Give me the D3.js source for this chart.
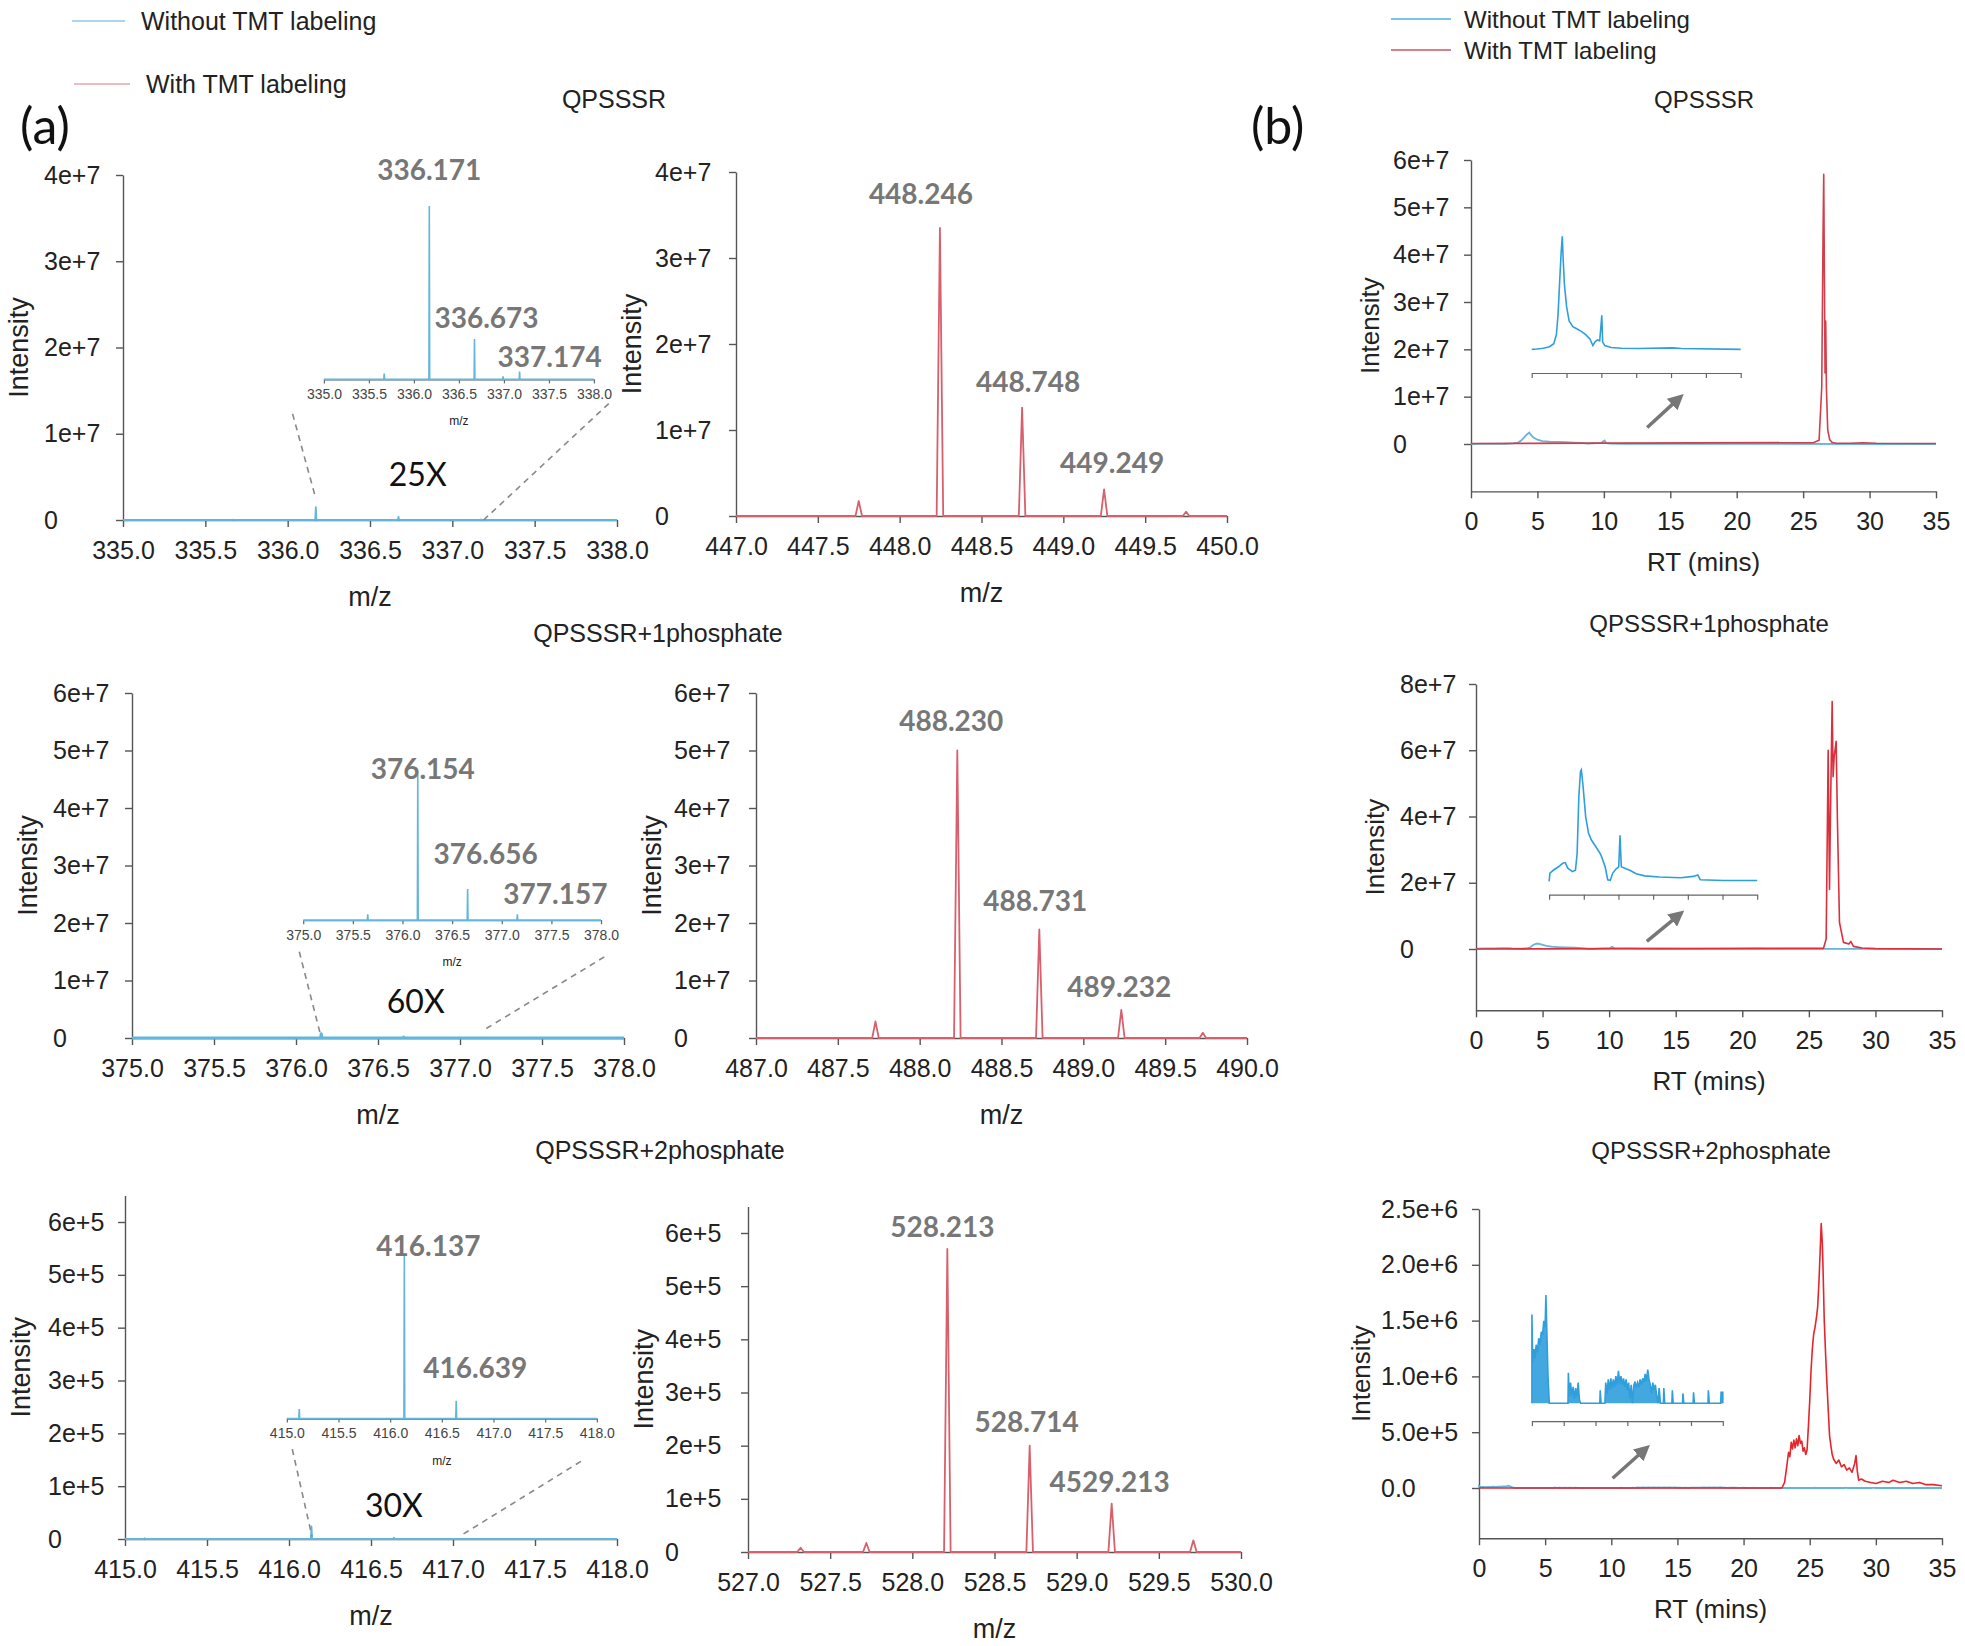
<!DOCTYPE html>
<html lang="en">
<head>
<meta charset="utf-8">
<style>
  body { margin: 0; background: #fff; }
  svg { display: block; }
  .axis path, .axis line { stroke: #555; stroke-width: 1.4; }
  .axis text { font-family: "Liberation Sans", Arial, sans-serif; font-size: 25px; fill: #222; }
  .inset-axis path, .inset-axis line { stroke: #666; stroke-width: 1.2; }
  .inset-axis text { font-family: "Liberation Sans", Arial, sans-serif; font-size: 14px; fill: #444; }
  .lab { font-family: "Liberation Sans", Arial, sans-serif; fill: #222; }
  .peak-label { font-family: Lato, "Open Sans", sans-serif; font-weight: 700; font-size: 28px; fill: #777; }
  .mag { font-family: Lato, "Open Sans", sans-serif; fill: #111; }
</style>
</head>
<body>
<svg width="1965" height="1646"></svg>
<script src="https://d3js.org/d3.v7.min.js"></script>
<script>
// ---------------- data ----------------
// (a) MS1 spectra, peak centroids (m/z, intensity)
const a1Mz  = [335.67, 336.171, 336.673, 336.99, 337.174];
const a1Int = [5.1e4, 1.5e6, 3.5e5, 2.7e4, 6.8e4];
const a1Lab = ["", "336.171", "336.673", "", "337.174"];

const a2Mz  = [447.75, 448.246, 448.748, 449.249, 449.75];
const a2Int = [1.74e6, 3.35e7, 1.26e7, 3.1e6, 5e5];
const a2Lab = ["", "448.246", "448.748", "449.249", ""];

const a3Mz  = [375.65, 376.154, 376.656, 377.157];
const a3Int = [3.0e4, 7.5e5, 1.6e5, 3.0e4];
const a3Lab = ["", "376.154", "376.656", "377.157"];

const a4Mz  = [487.73, 488.23, 488.731, 489.232, 489.73];
const a4Int = [2.9e6, 5.0e7, 1.89e7, 4.9e6, 9e5];
const a4Lab = ["", "488.230", "488.731", "489.232", ""];

const a5Mz  = [415.12, 416.137, 416.639];
const a5Int = [1.4e3, 2.4e4, 2.6e3];
const a5Lab = ["", "416.137", "416.639"];

const a6Mz  = [527.32, 527.72, 528.213, 528.714, 529.213, 529.71];
const a6Int = [8e3, 1.7e4, 5.7e5, 2.0e5, 9.1e4, 2.2e4];
const a6Lab = ["", "", "528.213", "528.714", "4529.213", ""];

// tick values / labels
const a1XTicks = [335.0, 335.5, 336.0, 336.5, 337.0, 337.5, 338.0];
const a2XTicks = [447.0, 447.5, 448.0, 448.5, 449.0, 449.5, 450.0];
const a3XTicks = [375.0, 375.5, 376.0, 376.5, 377.0, 377.5, 378.0];
const a4XTicks = [487.0, 487.5, 488.0, 488.5, 489.0, 489.5, 490.0];
const a5XTicks = [415.0, 415.5, 416.0, 416.5, 417.0, 417.5, 418.0];
const a6XTicks = [527.0, 527.5, 528.0, 528.5, 529.0, 529.5, 530.0];
const yTicks4e7 = [0, 1e7, 2e7, 3e7, 4e7];
const yLabels4e7 = ["0", "1e+7", "2e+7", "3e+7", "4e+7"];
const yTicks6e7 = [0, 1e7, 2e7, 3e7, 4e7, 5e7, 6e7];
const yLabels6e7 = ["0", "1e+7", "2e+7", "3e+7", "4e+7", "5e+7", "6e+7"];
const yTicks6e5 = [0, 1e5, 2e5, 3e5, 4e5, 5e5, 6e5];
const yLabels6e5 = ["0", "1e+5", "2e+5", "3e+5", "4e+5", "5e+5", "6e+5"];

// (b) extracted ion chromatograms (RT in min, intensity)
const rtTicks = [0, 5, 10, 15, 20, 25, 30, 35];
const insetRtTicks = [0, 5, 10, 15, 20, 25, 30];

const b1BlueRt  = [0, 0.73, 1.65, 2.56, 3.17, 3.54, 3.78, 4.02, 4.21, 4.39, 4.51, 4.7, 5.0, 5.37, 5.91, 6.52, 7.13, 7.74, 8.35, 8.78, 9.09, 9.45, 9.76, 9.94, 10.06, 10.18, 10.49, 11.4, 12.9, 15.4, 20.2, 21.5, 30, 35];
const b1BlueInt = [0, 7e3, 2.4e4, 5.5e4, 1.2e5, 3.1e5, 7.4e5, 1.46e6, 2.02e6, 2.4e6, 1.92e6, 1.37e6, 9.1e5, 6.0e5, 4.8e5, 4.3e5, 3.8e5, 3.1e5, 2.2e5, 8e4, 1.6e5, 2.0e5, 1.8e5, 5.0e5, 7.2e5, 1.6e5, 8e4, 3.8e4, 2.4e4, 1.7e4, 3.1e4, 1.7e4, 0, 0];
const b1RedRt  = [0, 25.8, 26.2, 26.4, 26.5, 26.55, 26.6, 26.65, 26.7, 26.75, 26.85, 27.0, 27.2, 27.5, 28.5, 29.5, 30.5, 35];
const b1RedInt = [1e5, 3e5, 8e5, 1.2e7, 4.5e7, 5.7e7, 3.5e7, 1.5e7, 2.6e7, 1.2e7, 3e6, 9e5, 3e5, 1.5e5, 1.5e5, 2.5e5, 1.5e5, 1e5];
const b1YTicks = [0, 1e7, 2e7, 3e7, 4e7, 5e7, 6e7];
const b1YLabels = ["0", "1e+7", "2e+7", "3e+7", "4e+7", "5e+7", "6e+7"];

const b2BlueRt  = [0, 0.12, 0.61, 1.35, 1.96, 2.33, 2.69, 3.37, 3.8, 4.04, 4.29, 4.53, 4.65, 4.9, 5.27, 5.69, 6.12, 6.73, 7.47, 8.08, 8.45, 8.82, 9.18, 9.67, 10.04, 10.22, 10.41, 10.9, 11.63, 12.55, 13.78, 15.9, 18.98, 20.8, 21.43, 21.8, 25.1, 30, 35];
const b2BlueInt = [0, 1.2e5, 1.6e5, 2.1e5, 2.6e5, 2.7e5, 1.9e5, 1.4e5, 1.6e5, 4.0e5, 1.22e6, 1.58e6, 1.6e6, 1.36e6, 9.3e5, 6.9e5, 5.9e5, 5.0e5, 3.8e5, 2.1e5, 2.4e4, 1.6e4, 1.2e5, 1.8e5, 2.1e5, 6.6e5, 2.1e5, 1.9e5, 1.6e5, 1.1e5, 8e4, 6.4e4, 5.3e4, 7.2e4, 9.1e4, 2.4e4, 1.4e4, 1.4e4, 0];
const b2RedRt  = [0, 26.1, 26.3, 26.45, 26.55, 26.62, 26.75, 26.82, 26.9, 27.05, 27.15, 27.3, 27.6, 28.0, 28.15, 28.35, 29.0, 30, 35];
const b2RedInt = [0, 2e5, 3e6, 6.0e7, 1.8e7, 4e7, 7.47e7, 5.2e7, 5.8e7, 6.27e7, 3.8e7, 8e6, 2e6, 1.5e6, 2.3e6, 8e5, 3e5, 1e5, 0];
const b2YTicks = [0, 2e7, 4e7, 6e7, 8e7];
const b2YLabels = ["0", "2e+7", "4e+7", "6e+7", "8e+7"];

const b3BlueRt  = [0, 0, 0.13, 0.33, 0.47, 0.67, 0.87, 1.07, 1.27, 1.47, 1.67, 1.87, 2.07, 2.2, 2.33, 2.53, 2.73,
  5.67, 5.73, 5.87, 6.07, 6.27, 6.47, 6.67, 6.87, 7.07, 7.27, 7.47, 7.67,
  10.67, 10.73, 10.87, 11.47, 11.6, 11.8, 12.0, 12.2, 12.4, 12.6, 12.8, 13.0, 13.2, 13.4, 13.6, 13.8, 14.0, 14.2, 14.4, 14.6, 14.8, 15.0, 15.2, 15.4, 15.6, 15.8,
  16.0, 16.2, 16.4, 16.6, 16.8, 17.0, 17.2, 17.4, 17.6, 17.8, 18.0, 18.2, 18.4, 18.6, 18.8, 19.0, 19.2, 19.4, 19.6, 19.8, 20.0, 20.2,
  20.67, 20.73, 20.87, 22.0, 22.07, 22.2, 23.67, 23.73, 23.87, 25.33, 25.4, 25.53, 27.67, 27.73, 27.87, 29.67, 29.73, 30, 30, 35];
const b3BlueInt = [0, 16400, 7600, 10000, 8200, 10800, 9400, 12000, 10800, 13200, 12600, 15200, 14000, 20000, 14000, 5000, 0,
  0, 5600, 1200, 3800, 1400, 3000, 800, 2800, 1200, 3800, 600, 0,
  0, 2400, 0, 0, 3800, 1800, 4400, 2400, 4600, 2800, 4400, 3000, 5000, 3400, 6000, 3600, 5000, 3400, 4600, 3000, 4400, 2400, 3800, 800, 3400, 0,
  3200, 4000, 2800, 3800, 3000, 4400, 3400, 4600, 3800, 5400, 4000, 6200, 4400, 3400, 1800, 3800, 2400, 3400, 1400, 0, 2800, 0,
  0, 2800, 0, 0, 2400, 0, 0, 1800, 0, 0, 2000, 0, 0, 2400, 0, 0, 2000, 2000, 0, 0];
const b3RedRt  = [0, 22.9, 23.1, 23.25, 23.4, 23.5, 23.6, 23.7, 23.8, 23.9, 24.0, 24.1, 24.2, 24.3, 24.4, 24.5, 24.6, 24.7, 24.8, 24.9, 25.0, 25.1, 25.2, 25.3, 25.4, 25.5, 25.6, 25.7, 25.8, 25.87, 25.95, 26.0, 26.1, 26.2, 26.3, 26.4, 26.5, 26.6, 26.7, 26.8, 27.0, 27.2, 27.4, 27.6, 27.8, 28.0, 28.2, 28.4, 28.5, 28.6, 28.7, 28.9, 29.2, 29.6, 30.0, 30.5, 31.0, 31.3, 31.8, 32.3, 32.8, 33.3, 33.8, 34.3, 35];
const b3RedInt = [0, 0, 0.05e6, 0.18e6, 0.32e6, 0.28e6, 0.41e6, 0.35e6, 0.43e6, 0.36e6, 0.44e6, 0.38e6, 0.47e6, 0.40e6, 0.42e6, 0.33e6, 0.36e6, 0.30e6, 0.34e6, 0.55e6, 0.78e6, 1.05e6, 1.25e6, 1.38e6, 1.44e6, 1.52e6, 1.62e6, 1.85e6, 2.15e6, 2.37e6, 2.2e6, 2.0e6, 1.5e6, 1.2e6, 0.94e6, 0.70e6, 0.47e6, 0.38e6, 0.30e6, 0.26e6, 0.22e6, 0.25e6, 0.19e6, 0.21e6, 0.16e6, 0.18e6, 0.14e6, 0.22e6, 0.29e6, 0.15e6, 0.07e6, 0.08e6, 0.06e6, 0.05e6, 0.04e6, 0.06e6, 0.05e6, 0.07e6, 0.05e6, 0.06e6, 0.04e6, 0.05e6, 0.03e6, 0.03e6, 0.02e6];
const b3YTicks = [0, 0.5e6, 1.0e6, 1.5e6, 2.0e6, 2.5e6];
const b3YLabels = ["0.0", "5.0e+5", "1.0e+6", "1.5e+6", "2.0e+6", "2.5e+6"];

// ---------------- drawing ----------------
const svg = d3.select("svg");
const BLUE = "#62b5dd", RED = "#d8606c", INSET_BLUE = "#2f9fdc";

svg.append("defs").append("marker")
  .attr("id", "arrow").attr("viewBox", "0 0 10 10")
  .attr("refX", 3).attr("refY", 5)
  .attr("markerWidth", 4.5).attr("markerHeight", 4.5)
  .attr("orient", "auto")
  .append("path").attr("d", "M0,0 L10,5 L0,10 z").attr("fill", "#777");

function text(x, y, s, size, opts) {
  opts = opts || {};
  const t = svg.append("text").attr("class", opts.cls || "lab")
    .attr("x", x).attr("y", y)
    .attr("text-anchor", opts.anchor || "middle")
    .style("font-size", size + "px")
    .text(s);
  if (opts.rotate) t.attr("dominant-baseline", "central").attr("transform", `rotate(-90,${x},${y})`);
  return t;
}

// centroid peaks drawn as narrow spikes on a baseline
function peakLine(mz, inten, x0, x1, hw) {
  const pts = [[x0, 0]];
  mz.forEach((m, i) => pts.push([m - hw, 0], [m, inten[i]], [m + hw, 0]));
  pts.push([x1, 0]);
  return pts;
}

function spectrumPanel(o) {
  const g = svg.append("g");
  const xd = [o.xTicks[0], o.xTicks[o.xTicks.length - 1]];
  const x = d3.scaleLinear().domain(xd).range([o.left, o.right]);
  const y = d3.scaleLinear().domain([0, o.yTicks[o.yTicks.length - 1]]).range([o.bottom, o.top]);
  const yAx = d3.scaleLinear().domain([0, o.axisMax]).range([o.bottom, y(o.axisMax)]);

  g.append("g").attr("class", "axis").attr("transform", `translate(0,${o.bottom})`)
    .call(d3.axisBottom(x).tickValues(o.xTicks).tickFormat(d3.format(".1f"))
      .tickSize(7).tickSizeOuter(0).tickPadding(14));
  const ya = g.append("g").attr("class", "axis").attr("transform", `translate(${o.left},0)`)
    .call(d3.axisLeft(yAx).tickValues(o.yTicks).tickFormat((d, i) => o.yLabels[i])
      .tickSize(7).tickSizeOuter(0));
  ya.selectAll("text").attr("text-anchor", "start").attr("x", -o.labelOff);

  const line = d3.line().x(d => x(d[0])).y(d => y(d[1]));
  g.append("path").attr("d", line(peakLine(o.mz, o.int, xd[0], xd[1], o.hw)))
    .attr("fill", "none").attr("stroke", o.color).attr("stroke-width", o.baseW || 1.8)
    .attr("stroke-linejoin", "round");

  let lx = x, ly = y;
  if (o.inset) {
    const ins = o.inset;
    const ix = d3.scaleLinear().domain(xd).range([x(ins.x0), x(ins.x1)]);
    const iy = d3.scaleLinear().domain([0, d3.max(o.int)]).range([y(ins.yBase), y(ins.yTop)]);
    g.append("g").attr("class", "inset-axis").attr("transform", `translate(0,${y(ins.yBase)})`)
      .call(d3.axisBottom(ix).tickValues(o.xTicks).tickFormat(d3.format(".1f"))
        .tickSize(4).tickSizeOuter(0).tickPadding(6));
    g.append("text").attr("class", "lab").style("font-size", "12px").attr("fill", "#444")
      .attr("x", (ix.range()[0] + ix.range()[1]) / 2).attr("y", y(ins.yBase) + 46)
      .attr("text-anchor", "middle").text("m/z");
    const il = d3.line().x(d => ix(d[0])).y(d => iy(d[1]));
    g.append("path").attr("d", il(peakLine(o.mz, o.int, xd[0], xd[1], o.hw)))
      .attr("fill", "none").attr("stroke", o.color).attr("stroke-width", 1.6);
    lx = ix; ly = iy;

    // dashed guide lines from the zoomed region
    o.dashes.forEach(d => {
      g.append("line").attr("x1", x(d[0])).attr("y1", y(d[1])).attr("x2", x(d[2])).attr("y2", y(d[3]))
        .attr("stroke", "#888").attr("stroke-width", 1.6).attr("stroke-dasharray", "6,5");
    });
    g.append("text").attr("class", "mag").style("font-size", "32px")
      .attr("x", x(o.mag[1])).attr("y", y(o.mag[2]))
      .attr("text-anchor", "middle").attr("dominant-baseline", "central").text(o.mag[0]);
  }

  o.labels.forEach((s, i) => {
    if (!s) return;
    g.append("text").attr("class", "peak-label")
      .attr("x", lx(o.mz[i]) + o.ldx[i]).attr("y", ly(o.int[i]) + o.ldy[i])
      .attr("text-anchor", "middle").text(s);
  });

  text((o.left + o.right) / 2, o.bottom + 86, "m/z", 27);
  text(o.left - 104, (o.bottom + y(o.axisMax)) / 2, "Intensity", 27, { rotate: true });
}

function chromPanel(o) {
  const g = svg.append("g");
  const x = d3.scaleLinear().domain([0, 35]).range([o.left, o.right]);
  const top = o.yTicks[o.yTicks.length - 1];
  const y = d3.scaleLinear().domain([0, top]).range([o.zero, o.top]);
  const bottom = y(o.yMin);
  const yAx = d3.scaleLinear().domain([o.yMin, top]).range([bottom, o.top]);

  g.append("g").attr("class", "axis").attr("transform", `translate(0,${bottom})`)
    .call(d3.axisBottom(x).tickValues(rtTicks).tickSize(7).tickSizeOuter(0).tickPadding(14));
  const ya = g.append("g").attr("class", "axis").attr("transform", `translate(${o.left},0)`)
    .call(d3.axisLeft(yAx).tickValues(o.yTicks).tickFormat((d, i) => o.yLabels[i])
      .tickSize(7).tickSizeOuter(0));
  ya.selectAll("text").attr("text-anchor", "start").attr("x", -o.labelOff);

  const line = d3.line().x(d => x(d[0])).y(d => y(d[1]));
  g.append("path").attr("d", line(d3.zip(o.blueRt, o.blueInt)))
    .attr("fill", "none").attr("stroke", BLUE).attr("stroke-width", 1.8);
  g.append("path").attr("d", line(d3.zip(o.redRt, o.redInt)))
    .attr("fill", "none").attr("stroke", o.redColor).attr("stroke-width", 1.6)
    .attr("stroke-linejoin", "round");

  // magnified view of the unlabeled trace
  const ins = o.inset;
  const ix = d3.scaleLinear().domain([0, 30]).range([x(ins.x0), x(ins.x1)]);
  const iy = d3.scaleLinear().domain([0, d3.max(o.blueInt)]).range([y(ins.yBase), y(ins.yTop)]);
  const pts = d3.zip(o.blueRt, o.blueInt).filter(d => d[0] <= 30);
  if (ins.fill) {
    g.append("path").attr("d", d3.area().x(d => ix(d[0])).y0(iy(0)).y1(d => iy(d[1]))(pts))
      .attr("fill", INSET_BLUE).attr("opacity", 0.9);
  }
  g.append("path").attr("d", d3.line().x(d => ix(d[0])).y(d => iy(d[1]))(pts))
    .attr("fill", "none").attr("stroke", INSET_BLUE).attr("stroke-width", 1.6);
  g.append("g").attr("class", "inset-axis").attr("transform", `translate(0,${y(ins.axisY)})`)
    .call(d3.axisBottom(ix).tickValues(insetRtTicks).tickSize(5).tickSizeOuter(0).tickFormat(""));

  g.append("line")
    .attr("x1", x(o.arrow[0])).attr("y1", y(o.arrow[1]))
    .attr("x2", x(o.arrow[2])).attr("y2", y(o.arrow[3]))
    .attr("stroke", "#777").attr("stroke-width", 3.5).attr("marker-end", "url(#arrow)");

  text((o.left + o.right) / 2, bottom + 80, "RT (mins)", 26);
  text(o.left - o.ylabOff, (bottom + o.top) / 2, "Intensity", 26, { rotate: true });
}

// ---- legends and panel letters ----
svg.append("line").attr("x1", 72).attr("x2", 125).attr("y1", 21).attr("y2", 21).attr("stroke", "#a9d6ec").attr("stroke-width", 2);
text(141, 30, "Without TMT labeling", 25, { anchor: "start" });
svg.append("line").attr("x1", 74).attr("x2", 130).attr("y1", 84).attr("y2", 84).attr("stroke", "#e9bcc6").attr("stroke-width", 2);
text(146, 93, "With TMT labeling", 25, { anchor: "start" });

svg.append("line").attr("x1", 1391).attr("x2", 1451).attr("y1", 19).attr("y2", 19).attr("stroke", "#7cc4e6").attr("stroke-width", 2);
text(1464, 28, "Without TMT labeling", 24, { anchor: "start" });
svg.append("line").attr("x1", 1391).attr("x2", 1451).attr("y1", 50).attr("y2", 50).attr("stroke", "#d9808a").attr("stroke-width", 2);
text(1464, 59, "With TMT labeling", 24, { anchor: "start" });

text(20, 144, "(a)", 50, { anchor: "start", cls: "mag" });
text(1251, 144, "(b)", 50, { anchor: "start", cls: "mag" });

text(614, 108, "QPSSSR", 25);
text(658, 642, "QPSSSR+1phosphate", 25);
text(660, 1159, "QPSSSR+2phosphate", 25);
text(1704, 108, "QPSSSR", 24);
text(1709, 632, "QPSSSR+1phosphate", 24);
text(1711, 1159, "QPSSSR+2phosphate", 24);

// ---- (a) panels ----
spectrumPanel({ left: 123, right: 617, bottom: 520, top: 175, axisMax: 4e7, labelOff: 79,
  xTicks: a1XTicks, yTicks: yTicks4e7, yLabels: yLabels4e7,
  mz: a1Mz, int: a1Int, color: BLUE, hw: 0.004,
  labels: a1Lab, ldx: [0, 0, 12, 0, 30], ldy: [0, -26, -11, 0, -5],
  inset: { x0: 336.22, x1: 337.86, yBase: 1.63e7, yTop: 3.64e7 },
  dashes: [[336.03, 1.23e7, 336.165, 2.9e6], [337.95, 1.35e7, 337.19, 0]],
  mag: ["25X", 336.79, 5.4e6] });

spectrumPanel({ left: 736, right: 1227, bottom: 516, top: 172, axisMax: 4e7, labelOff: 81,
  xTicks: a2XTicks, yTicks: yTicks4e7, yLabels: yLabels4e7,
  mz: a2Mz, int: a2Int, color: RED, hw: 0.02,
  labels: a2Lab, ldx: [0, -19, 6, 8, 0], ldy: [0, -24, -16, -16, 0] });

spectrumPanel({ left: 132, right: 624, bottom: 1038, top: 693, axisMax: 6e7, labelOff: 79,
  xTicks: a3XTicks, yTicks: yTicks6e7, yLabels: yLabels6e7,
  mz: a3Mz, int: a3Int, color: BLUE, hw: 0.004, baseW: 3,
  labels: a3Lab, ldx: [0, 5, 18, 38], ldy: [0, 4, -25, -10],
  inset: { x0: 376.044, x1: 377.86, yBase: 2.05e7, yTop: 4.58e7 },
  dashes: [[376.02, 1.5e7, 376.15, 0.05e7], [377.88, 1.41e7, 377.14, 0.13e7]],
  mag: ["60X", 376.73, 0.66e7] });

spectrumPanel({ left: 756, right: 1247, bottom: 1038, top: 693, axisMax: 6e7, labelOff: 82,
  xTicks: a4XTicks, yTicks: yTicks6e7, yLabels: yLabels6e7,
  mz: a4Mz, int: a4Int, color: RED, hw: 0.02,
  labels: a4Lab, ldx: [0, -6, -4, -2, 0], ldy: [0, -20, -18, -13, 0] });

spectrumPanel({ left: 125, right: 617, bottom: 1539, top: 1222, axisMax: 6.5e5, labelOff: 77,
  xTicks: a5XTicks, yTicks: yTicks6e5, yLabels: yLabels6e5,
  mz: a5Mz, int: a5Int, color: BLUE, hw: 0.004,
  labels: a5Lab, ldx: [0, 24, 19], ldy: [0, 2, -23],
  inset: { x0: 415.987, x1: 417.877, yBase: 2.28e5, yTop: 5.4e5 },
  dashes: [[416.02, 1.7e5, 416.14, 0.05e5], [417.78, 1.47e5, 417.04, 0.05e5]],
  mag: ["30X", 416.64, 0.65e5] });

spectrumPanel({ left: 748, right: 1241, bottom: 1552, top: 1233, axisMax: 6.5e5, labelOff: 83,
  xTicks: a6XTicks, yTicks: yTicks6e5, yLabels: yLabels6e5,
  mz: a6Mz, int: a6Int, color: RED, hw: 0.02,
  labels: a6Lab, ldx: [0, 0, -5, -3, -2, 0], ldy: [0, 0, -12, -14, -12, 0] });

// ---- (b) panels ----
chromPanel({ left: 1471, right: 1936, zero: 444, top: 160, yMin: -1e7, labelOff: 78, ylabOff: 101,
  yTicks: b1YTicks, yLabels: b1YLabels,
  blueRt: b1BlueRt, blueInt: b1BlueInt, redRt: b1RedRt, redInt: b1RedInt, redColor: "#d23f4b",
  inset: { x0: 4.57, x1: 20.3, yBase: 2.0e7, yTop: 4.39e7, axisY: 1.5e7 },
  arrow: [13.26, 0.35e7, 15.4, 0.9e7] });

chromPanel({ left: 1476, right: 1942, zero: 949, top: 684, yMin: -1.85e7, labelOff: 76, ylabOff: 101,
  yTicks: b2YTicks, yLabels: b2YLabels,
  blueRt: b2BlueRt, blueInt: b2BlueInt, redRt: b2RedRt, redInt: b2RedInt, redColor: "#d9303c",
  inset: { x0: 5.49, x1: 21.12, yBase: 2.04e7, yTop: 5.41e7, axisY: 1.64e7 },
  arrow: [12.83, 0.23e7, 15.0, 0.95e7] });

chromPanel({ left: 1479, right: 1942, zero: 1488, top: 1209, yMin: -0.45e6, labelOff: 98, ylabOff: 118,
  yTicks: b3YTicks, yLabels: b3YLabels,
  blueRt: b3BlueRt, blueInt: b3BlueInt, redRt: b3RedRt, redInt: b3RedInt, redColor: "#e5252c",
  inset: { x0: 4.0, x1: 18.43, yBase: 0.76e6, yTop: 1.73e6, axisY: 0.6e6, fill: true },
  arrow: [10.1, 0.087e6, 12.3, 0.32e6] });
</script>
</body>
</html>
